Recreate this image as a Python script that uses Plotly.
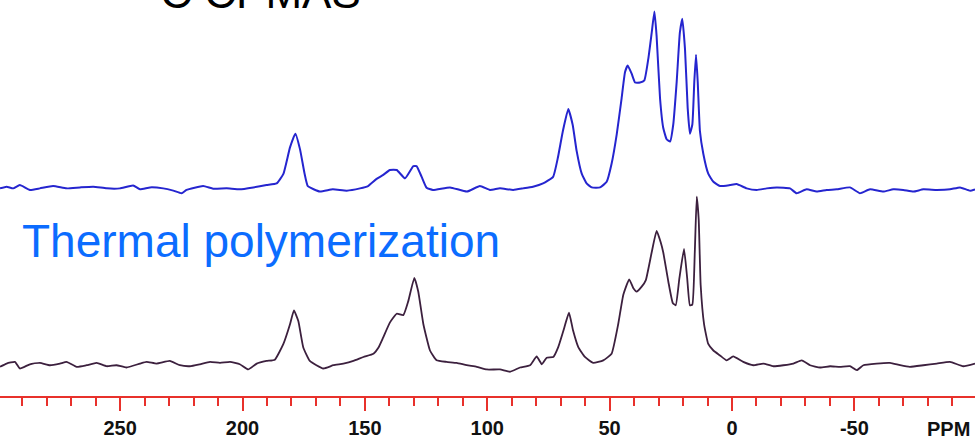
import plotly.graph_objects as go

# 13C CPMAS spectra: chemical shift (ppm) and intensity (a.u., baseline ~ 0)
ppm_top = [299.1, 296.4, 293.7, 291.0, 286.9, 282.8, 277.4, 271.9, 266.4, 261.0,
           255.5, 250.1, 244.7, 241.9, 237.8, 232.4, 228.3, 224.9, 222.9, 216.1,
           212.0, 206.5, 201.1, 195.6, 190.2, 186.1, 183.3, 180.6, 178.4, 176.5,
           174.7, 173.3, 168.4, 163.1, 157.4, 152.0, 148.7, 145.2, 142.5, 139.8,
           137.0, 133.6, 130.2, 128.9, 126.8, 124.8, 122.2, 115.2, 108.3, 103.0,
           98.9, 94.8, 89.4, 85.3, 81.3, 77.2, 73.1, 71.1, 69.1, 66.9,
           65.1, 63.5, 61.4, 59.4, 57.3, 53.9, 51.2, 49.2, 47.1, 45.1,
           43.7, 42.6, 41.0, 39.6, 37.6, 35.8, 34.2, 32.8, 31.7, 30.8,
           29.4, 28.1, 26.7, 25.3, 24.0, 22.6, 21.3, 20.3, 19.2, 18.1,
           17.2, 16.2, 15.4, 14.7, 14.0, 13.1, 11.7, 9.7, 7.6, 4.9,
           0.8, -1.9, -6.0, -10.1, -14.2, -18.3, -23.7, -26.4, -30.5, -34.6,
           -38.7, -42.8, -48.2, -52.3, -56.4, -61.8, -65.9, -70.0, -74.1, -78.2,
           -83.7, -89.1, -93.2, -97.3, -99.3]
int_top = [-1.7, 0.0, -1.7, 1.7, -3.3, -1.7, 0.7, -1.7, -0.7, 0.0,
           -1.7, -1.7, 1.3, -2.7, -0.7, -1.7, -4.0, -6.7, -3.3, 0.7,
           -2.0, -1.7, -2.7, -0.7, 1.7, 3.3, 13.0, 40.0, 54.0, 38.0,
           14.0, 0.5, -5.0, -2.7, -4.0, -1.7, 0.7, 8.0, 12.0, 17.0,
           17.0, 8.5, 21.0, 21.0, 10.0, -1.0, -3.3, -0.7, -5.0, 0.7,
           -3.3, -1.7, -3.3, -1.7, 0.0, 3.3, 10.0, 30.0, 56.7, 79.0,
           63.0, 36.7, 13.3, 3.3, -0.7, -0.7, 5.0, 23.3, 53.3, 90.0,
           116.7, 123.3, 115.0, 106.0, 106.0, 108.3, 130.0, 156.7, 178.3, 153.3,
           90.0, 60.0, 48.3, 46.0, 63.3, 106.7, 156.7, 171.0, 140.0, 80.0,
           54.0, 63.3, 106.7, 134.3, 106.7, 56.7, 33.3, 13.3, 5.0, 0.7,
           1.7, 2.7, -1.7, -3.3, -1.7, -0.7, -1.7, -6.7, -2.7, -5.0,
           -3.3, -2.7, -0.7, -6.7, -2.7, -5.0, -2.7, -3.3, -5.0, -2.7,
           -3.3, -2.7, -0.7, -4.0, -2.7]

ppm_bot = [299.1, 296.4, 293.0, 291.0, 286.9, 282.8, 278.7, 274.6, 271.9, 267.8,
           263.7, 259.6, 255.5, 251.5, 247.4, 241.9, 239.2, 235.1, 229.7, 225.6,
           221.5, 217.4, 213.3, 209.2, 205.1, 201.1, 197.7, 194.2, 190.2, 186.8,
           183.3, 180.6, 179.0, 177.2, 175.2, 172.5, 167.0, 162.9, 158.8, 154.7,
           150.6, 146.5, 144.5, 142.5, 139.8, 137.0, 134.3, 132.3, 129.8, 128.2,
           126.1, 123.4, 120.7, 116.6, 112.5, 108.4, 104.3, 100.2, 94.8, 90.7,
           86.6, 82.5, 79.8, 77.7, 75.7, 73.0, 71.0, 68.9, 66.6, 64.9,
           62.8, 60.1, 56.7, 52.6, 49.2, 46.5, 44.4, 42.0, 40.3, 39.0,
           36.9, 35.2, 32.8, 30.8, 29.1, 28.1, 26.0, 24.2, 23.0, 21.5,
           19.6, 18.3, 17.2, 16.2, 15.2, 14.4, 13.6, 12.8, 11.4, 9.7,
           7.6, 4.9, 2.2, -0.5, -4.6, -8.7, -12.8, -16.9, -21.0, -25.1,
           -28.5, -31.9, -36.0, -40.1, -44.1, -48.2, -51.0, -53.7, -59.1, -64.6,
           -68.7, -72.7, -78.2, -83.7, -89.1, -94.5, -99.3]
int_bot = [-2.3, 1.0, 2.7, -4.0, 0.3, 1.7, -0.7, 1.0, 2.7, -2.3,
           -0.7, 1.7, -1.7, -0.7, -3.0, 1.0, 2.7, 1.0, 3.7, -0.7,
           -1.7, 0.3, 2.7, 1.7, 2.7, 0.3, -5.0, 1.0, 3.7, 5.0,
           21.0, 41.0, 55.0, 44.3, 17.7, 3.7, -4.0, -0.7, 1.0, 3.7,
           7.7, 11.0, 17.0, 27.7, 42.7, 51.7, 50.3, 64.3, 88.3, 74.3,
           41.0, 14.3, 4.3, 2.7, 1.7, -0.7, -2.3, -5.0, -5.0, -7.3,
           -3.0, -0.7, 8.3, 0.3, 7.0, 7.7, 17.7, 34.3, 52.7, 34.3,
           17.7, 7.7, 1.7, 4.3, 11.0, 41.0, 71.0, 86.7, 77.7, 74.3,
           79.3, 86.0, 114.3, 136.0, 124.3, 114.3, 84.3, 62.7, 60.3, 87.7,
           117.7, 87.7, 60.3, 61.0, 114.3, 171.0, 147.7, 81.0, 41.0, 21.0,
           14.3, 9.3, 4.3, 8.3, 2.7, -0.7, 1.0, -1.7, -0.7, 1.0,
           4.3, -0.7, -3.0, -1.7, -2.3, -1.7, -5.7, -0.7, 1.0, 1.7,
           -0.7, -2.3, -0.7, 1.0, 2.7, -1.7, 1.0]

tick_vals = [250, 200, 150, 100, 50, 0, -50]
tick_text = ["250", "200", "150", "100", "50", "0", "-50"]

# vertical stacking of the two spectra
offset_top = 213
offset_bot = 32

FONT = "Liberation Sans, Arial, sans-serif"

fig = go.Figure()
fig.add_trace(go.Scatter(
    x=ppm_top, y=[v + offset_top for v in int_top], mode="lines",
    line=dict(color="#2525cf", width=2, shape="spline", smoothing=0.4),
    hoverinfo="skip", showlegend=False))
fig.add_trace(go.Scatter(
    x=ppm_bot, y=[v + offset_bot for v in int_bot], mode="lines",
    line=dict(color="#3c203e", width=1.8, shape="spline", smoothing=0.4),
    hoverinfo="skip", showlegend=False))

fig.add_annotation(x=291.0, y=157.5, xref="x", yref="y", text="Thermal polymerization",
                   showarrow=False, xanchor="left", yanchor="middle",
                   font=dict(family=FONT, size=46, color="#0b6cff"))
fig.add_annotation(x=(732 - 363) / 2.447, y=384, xref="x", yref="y",
                   text="<sup>13</sup>C CPMAS", showarrow=False,
                   xanchor="right", yanchor="bottom",
                   font=dict(family=FONT, size=44, color="#000000"))
fig.add_annotation(x=-88.3, y=-34 / 403, xref="x", yref="paper", text="<b>PPM</b>",
                   showarrow=False, xanchor="center", yanchor="middle",
                   font=dict(family=FONT, size=20, color="#111111"))

fig.update_layout(
    width=975, height=439,
    margin=dict(l=0, r=0, t=0, b=36),
    paper_bgcolor="white", plot_bgcolor="white",
    xaxis=dict(range=[299.1, -99.3], showgrid=False, zeroline=False,
               showline=True, linecolor="#e8312b", linewidth=1.5,
               ticks="outside", ticklen=13, tickwidth=1.5, tickcolor="#e8312b",
               tickvals=tick_vals, ticktext=tick_text,
               tickfont=dict(family=FONT, size=20, color="#111111", weight="bold"),
               minor=dict(dtick=10, tick0=0, ticks="outside", ticklen=8,
                          tickwidth=1.5, tickcolor="#e8312b", showgrid=False)),
    yaxis=dict(range=[0, 403], visible=False, showgrid=False, zeroline=False),
)

fig.write_html("out.html")
